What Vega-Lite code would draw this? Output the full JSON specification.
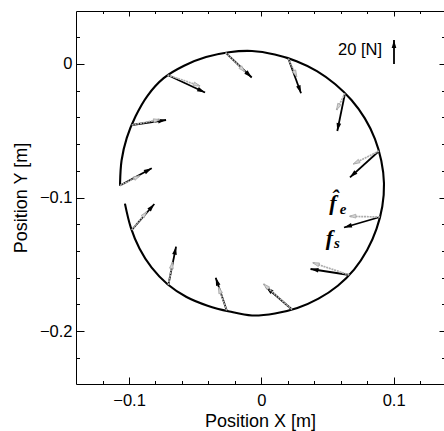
{
  "$schema": "https://vega.github.io/schema/vega-lite/v6.json",
  "width": 368,
  "height": 373,
  "autosize": {"type": "none"},
  "padding": {"left": 76, "top": 11, "right": 0, "bottom": 47},
  "background": "white",
  "config": {
    "view": {"stroke": null},
    "axis": {
      "grid": false,
      "domainColor": "black",
      "tickColor": "black",
      "labelColor": "black",
      "titleColor": "black",
      "labelFont": "Liberation Sans",
      "titleFont": "Liberation Sans",
      "labelFontSize": 16.5,
      "titleFontSize": 18,
      "titleFontWeight": "normal",
      "tickWidth": 1,
      "domainWidth": 1
    }
  },
  "datasets": {
    "curve": [
      {"i": 0, "x": -0.10311, "y": -0.10459},
      {"i": 1, "x": -0.09865, "y": -0.12256},
      {"i": 2, "x": -0.09212, "y": -0.1382},
      {"i": 3, "x": -0.08288, "y": -0.15259},
      {"i": 4, "x": -0.07092, "y": -0.16497},
      {"i": 5, "x": -0.05654, "y": -0.1745},
      {"i": 6, "x": -0.04063, "y": -0.18102},
      {"i": 7, "x": -0.02409, "y": -0.18541},
      {"i": 8, "x": -0.00703, "y": -0.18839},
      {"i": 9, "x": 0.01029, "y": -0.18689},
      {"i": 10, "x": 0.02723, "y": -0.18278},
      {"i": 11, "x": 0.04323, "y": -0.17579},
      {"i": 12, "x": 0.05783, "y": -0.16611},
      {"i": 13, "x": 0.07026, "y": -0.15379},
      {"i": 14, "x": 0.08003, "y": -0.13933},
      {"i": 15, "x": 0.08708, "y": -0.12346},
      {"i": 16, "x": 0.09145, "y": -0.10672},
      {"i": 17, "x": 0.09274, "y": -0.08951},
      {"i": 18, "x": 0.0907, "y": -0.07244},
      {"i": 19, "x": 0.08587, "y": -0.05601},
      {"i": 20, "x": 0.07826, "y": -0.04071},
      {"i": 21, "x": 0.06812, "y": -0.02701},
      {"i": 22, "x": 0.05594, "y": -0.01515},
      {"i": 23, "x": 0.04203, "y": -0.00531},
      {"i": 24, "x": 0.02663, "y": 0.00213},
      {"i": 25, "x": 0.01016, "y": 0.00712},
      {"i": 26, "x": -0.00703, "y": 0.00974},
      {"i": 27, "x": -0.02452, "y": 0.00882},
      {"i": 28, "x": -0.0418, "y": 0.00516},
      {"i": 29, "x": -0.05843, "y": -0.00129},
      {"i": 30, "x": -0.07384, "y": -0.01061},
      {"i": 31, "x": -0.08606, "y": -0.02379},
      {"i": 32, "x": -0.09507, "y": -0.03914},
      {"i": 33, "x": -0.10171, "y": -0.05536},
      {"i": 34, "x": -0.10566, "y": -0.07228},
      {"i": 35, "x": -0.1068, "y": -0.08951},
      {"i": 36, "x": -0.10678, "y": -0.09124}
    ],
    "black": [
      {"x": -0.02706, "y": 0.00846, "x2": -0.00726, "y2": -0.01011, "angle": 133.4},
      {"x": -0.0709, "y": -0.00824, "x2": -0.04255, "y2": -0.02135, "angle": 115.0},
      {"x": -0.09796, "y": -0.04569, "x2": -0.07203, "y2": -0.04195, "angle": 81.7},
      {"x": -0.1068, "y": -0.09101, "x2": -0.08284, "y2": -0.07813, "angle": 61.5},
      {"x": -0.09796, "y": -0.12434, "x2": -0.08088, "y2": -0.10487, "angle": 41.0},
      {"x": -0.07029, "y": -0.16554, "x2": -0.06447, "y2": -0.13685, "angle": 11.4},
      {"x": -0.02615, "y": -0.18464, "x2": -0.03447, "y2": -0.16007, "angle": -18.5},
      {"x": 0.0232, "y": -0.1839, "x2": 0.00355, "y2": -0.16704, "angle": -49.1},
      {"x": 0.06652, "y": -0.15805, "x2": 0.03719, "y2": -0.15356, "angle": -81.2},
      {"x": 0.08972, "y": -0.11461, "x2": 0.06251, "y2": -0.12247, "angle": -106.3},
      {"x": 0.08896, "y": -0.06517, "x2": 0.06704, "y2": -0.08487, "angle": -132.2},
      {"x": 0.06327, "y": -0.02195, "x2": 0.05744, "y2": -0.05019, "angle": -168.5},
      {"x": 0.02041, "y": 0.00412, "x2": 0.03001, "y2": -0.02195, "angle": 160.0},
      {"x": 0.1003, "y": 0.0, "x2": 0.1003, "y2": 0.01798, "angle": 0}
    ],
    "gray": [
      {"x": -0.02706, "y": 0.00846, "x2": -0.01232, "y2": -0.00577, "angle": 134.3},
      {"x": -0.0709, "y": -0.00824, "x2": -0.04633, "y2": -0.01648, "angle": 108.7},
      {"x": -0.09796, "y": -0.04569, "x2": -0.07657, "y2": -0.04157, "angle": 79.0},
      {"x": -0.1068, "y": -0.09101, "x2": -0.09169, "y2": -0.08367, "angle": 63.9},
      {"x": -0.09796, "y": -0.12434, "x2": -0.08662, "y2": -0.11064, "angle": 39.3},
      {"x": -0.07029, "y": -0.16554, "x2": -0.06712, "y2": -0.14831, "angle": 10.3},
      {"x": -0.02615, "y": -0.18464, "x2": -0.03235, "y2": -0.16704, "angle": -19.2},
      {"x": 0.0232, "y": -0.1839, "x2": 0.00166, "y2": -0.16479, "angle": -48.2},
      {"x": 0.06652, "y": -0.15805, "x2": 0.03885, "y2": -0.14884, "angle": -71.4},
      {"x": 0.08972, "y": -0.11461, "x2": 0.06652, "y2": -0.11408, "angle": -91.3},
      {"x": 0.08896, "y": -0.06517, "x2": 0.06954, "y2": -0.07491, "angle": -116.8},
      {"x": 0.06327, "y": -0.02195, "x2": 0.05684, "y2": -0.03446, "angle": -153.0},
      {"x": 0.02041, "y": 0.00412, "x2": 0.02676, "y2": -0.00951, "angle": 155.2}
    ]
  },
  "layer": [
    {
      "data": {"name": "curve"},
      "mark": {"type": "line", "color": "black", "strokeWidth": 2.1, "interpolate": "catmull-rom"},
      "encoding": {
        "x": {
          "field": "x", "type": "quantitative",
          "scale": {"domain": [-0.1401, 0.1381], "nice": false, "zero": false},
          "axis": {
            "orient": "bottom",
            "values": [-0.12, -0.1, -0.08, -0.06, -0.04, -0.02, 0, 0.02, 0.04, 0.06, 0.08, 0.1, 0.12],
            "title": "Position X [m]",
            "format": "~g",
            "labelExpr": "abs(datum.value*10-round(datum.value*10))<0.001 ? datum.label : ''",
            "tickSize": {"condition": {"test": "abs(datum.value*10-round(datum.value*10))<0.001", "value": -7}, "value": -3.5},
            "labelPadding": 15,
            "titlePadding": 4,
            "labelFlush": false
          }
        },
        "y": {
          "field": "y", "type": "quantitative",
          "scale": {"domain": [-0.2397, 0.0397], "nice": false, "zero": false},
          "axis": {
            "orient": "left",
            "values": [-0.22, -0.2, -0.18, -0.16, -0.14, -0.12, -0.1, -0.08, -0.06, -0.04, -0.02, 0, 0.02],
            "title": "Position Y [m]",
            "format": "~g",
            "labelExpr": "abs(datum.value*10-round(datum.value*10))<0.001 ? datum.label : ''",
            "tickSize": {"condition": {"test": "abs(datum.value*10-round(datum.value*10))<0.001", "value": -8}, "value": -3.5},
            "labelPadding": 12,
            "titlePadding": 9,
            "labelFlush": false
          }
        },
        "order": {"field": "i", "type": "quantitative"}
      }
    },
    {
      "data": {"name": "black"},
      "mark": {"type": "rule", "color": "black", "strokeWidth": 1.8},
      "encoding": {
        "x": {
          "field": "x", "type": "quantitative",
          "scale": {"domain": [-0.1401, 0.1381], "nice": false, "zero": false},
          "axis": {
            "orient": "top",
            "values": [-0.12, -0.1, -0.08, -0.06, -0.04, -0.02, 0, 0.02, 0.04, 0.06, 0.08, 0.1, 0.12],
            "labels": false, "title": null,
            "tickSize": {"condition": {"test": "abs(datum.value*10-round(datum.value*10))<0.001", "value": -5}, "value": -2.5}
          }
        },
        "y": {
          "field": "y", "type": "quantitative",
          "scale": {"domain": [-0.2397, 0.0397], "nice": false, "zero": false},
          "axis": {
            "orient": "right",
            "values": [-0.22, -0.2, -0.18, -0.16, -0.14, -0.12, -0.1, -0.08, -0.06, -0.04, -0.02, 0, 0.02],
            "labels": false, "title": null, "domain": false,
            "tickSize": {"condition": {"test": "abs(datum.value*10-round(datum.value*10))<0.001", "value": -5}, "value": -2.5}
          }
        },
        "x2": {"field": "x2"},
        "y2": {"field": "y2"}
      }
    },
    {
      "data": {"name": "black"},
      "mark": {"type": "point", "shape": "M0,0L0.7,2.4L-0.7,2.4Z", "filled": true, "color": "black", "size": 44, "opacity": 1},
      "encoding": {
        "x": {"field": "x2", "type": "quantitative", "scale": {"domain": [-0.1401, 0.1381], "nice": false, "zero": false}, "axis": null},
        "y": {"field": "y2", "type": "quantitative", "scale": {"domain": [-0.2397, 0.0397], "nice": false, "zero": false}, "axis": null},
        "angle": {"field": "angle", "type": "quantitative", "scale": null}
      }
    },
    {
      "data": {"name": "gray"},
      "mark": {"type": "rule", "color": "#adadad", "strokeWidth": 1.7, "strokeDash": [2, 0.8]},
      "encoding": {
        "x": {"field": "x", "type": "quantitative", "scale": {"domain": [-0.1401, 0.1381], "nice": false, "zero": false}, "axis": null},
        "y": {"field": "y", "type": "quantitative", "scale": {"domain": [-0.2397, 0.0397], "nice": false, "zero": false}, "axis": null},
        "x2": {"field": "x2"},
        "y2": {"field": "y2"}
      }
    },
    {
      "data": {"name": "gray"},
      "mark": {"type": "point", "shape": "M0,0L0.7,2.4L-0.7,2.4Z", "filled": true, "fill": "#d4d4d4", "stroke": "#a0a0a0", "strokeWidth": 0.7, "size": 30, "opacity": 1},
      "encoding": {
        "x": {"field": "x2", "type": "quantitative", "scale": {"domain": [-0.1401, 0.1381], "nice": false, "zero": false}, "axis": null},
        "y": {"field": "y2", "type": "quantitative", "scale": {"domain": [-0.2397, 0.0397], "nice": false, "zero": false}, "axis": null},
        "angle": {"field": "angle", "type": "quantitative", "scale": null}
      }
    },
    {
      "data": {"values": [{"x": 0.0746, "y": 0.00674, "t": "20 [N]"}]},
      "mark": {"type": "text", "font": "Liberation Sans", "fontSize": 16.5, "align": "center", "baseline": "alphabetic", "color": "black"},
      "encoding": {
        "x": {"field": "x", "type": "quantitative", "scale": {"domain": [-0.1401, 0.1381], "nice": false, "zero": false}, "axis": null},
        "y": {"field": "y", "type": "quantitative", "scale": {"domain": [-0.2397, 0.0397], "nice": false, "zero": false}, "axis": null},
        "text": {"field": "t"}
      }
    },
    {
      "data": {"values": [{"x": 0.0542, "y": -0.10899, "t": "f̂"}, {"x": 0.05155, "y": -0.13558, "t": "f"}]},
      "mark": {"type": "text", "font": "Liberation Serif", "fontStyle": "italic", "fontWeight": "bold", "fontSize": 22, "align": "center", "baseline": "alphabetic", "color": "black"},
      "encoding": {
        "x": {"field": "x", "type": "quantitative", "scale": {"domain": [-0.1401, 0.1381], "nice": false, "zero": false}, "axis": null},
        "y": {"field": "y", "type": "quantitative", "scale": {"domain": [-0.2397, 0.0397], "nice": false, "zero": false}, "axis": null},
        "text": {"field": "t"}
      }
    },
    {
      "data": {"values": [{"x": 0.06175, "y": -0.11236, "t": "e"}, {"x": 0.05722, "y": -0.1382, "t": "s"}]},
      "mark": {"type": "text", "font": "Liberation Serif", "fontStyle": "italic", "fontWeight": "bold", "fontSize": 15, "align": "center", "baseline": "alphabetic", "color": "black"},
      "encoding": {
        "x": {"field": "x", "type": "quantitative", "scale": {"domain": [-0.1401, 0.1381], "nice": false, "zero": false}, "axis": null},
        "y": {"field": "y", "type": "quantitative", "scale": {"domain": [-0.2397, 0.0397], "nice": false, "zero": false}, "axis": null},
        "text": {"field": "t"}
      }
    }
  ],
  "resolve": {"axis": {"x": "independent", "y": "independent"}}
}
